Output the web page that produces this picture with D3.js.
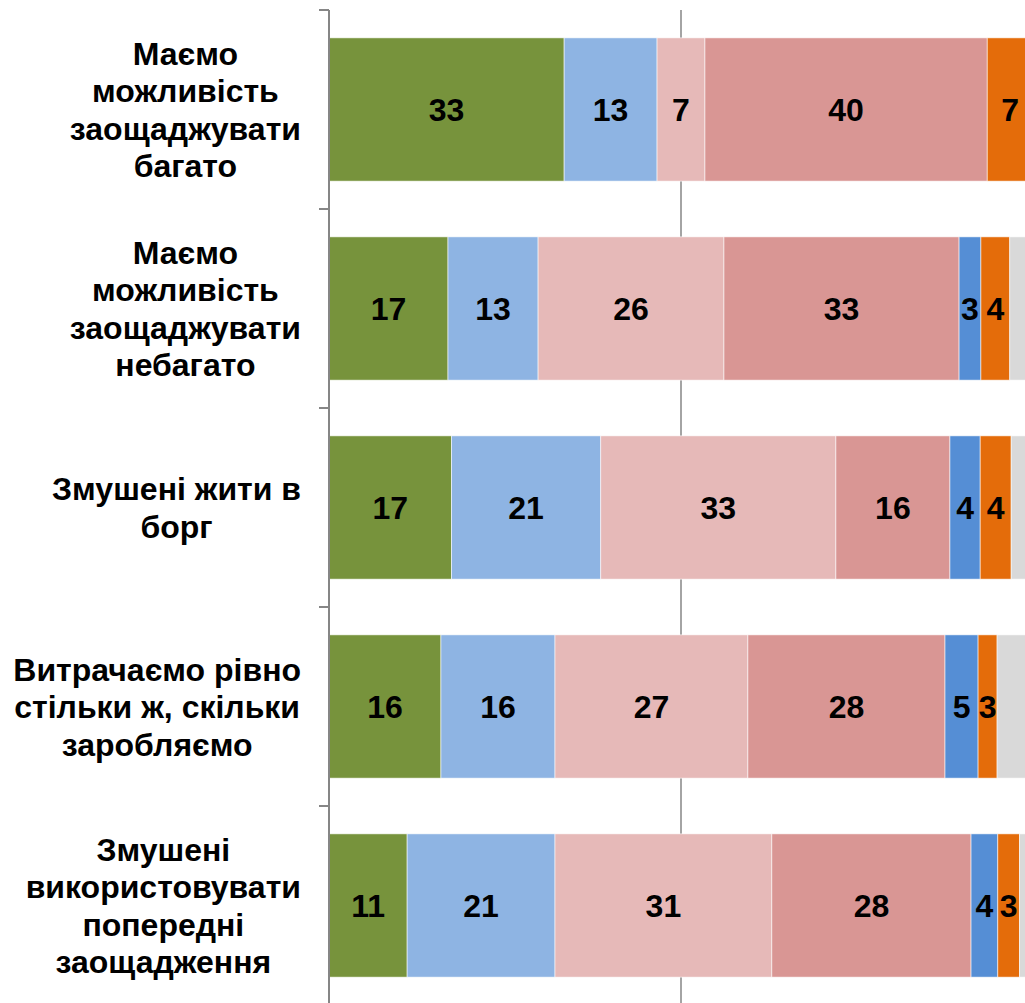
<!DOCTYPE html>
<html>
<head>
<meta charset="utf-8">
<script src="https://cdn.jsdelivr.net/npm/d3@7"></script>
<style>
  body { margin: 0; background: #fff; }
  svg { display: block; font-family: "Liberation Sans", Arial, sans-serif; }
</style>
</head>
<body>
<script>
var width = 1025, height = 1003;

//Categories, one label per bar (lines kept as in the picture)
var categories = [
  ["Маємо", "можливість", "заощаджувати", "багато"],
  ["Маємо", "можливість", "заощаджувати", "небагато"],
  ["Змушені жити в", "борг"],
  ["Витрачаємо рівно", "стільки ж, скільки", "заробляємо"],
  ["Змушені", "використовувати", "попередні", "заощадження"]
];

//Series values in %
var green     = [33.4, 16.9, 17.4, 15.9, 11.1];
var lightBlue = [13.2, 12.8, 21.2, 16.2, 21.0];
var lightPink = [6.8, 26.4, 33.4, 27.4, 30.8];
var darkPink  = [40.1, 33.4, 16.2, 28.0, 28.3];
var blue      = [0, 3.1, 4.3, 4.7, 3.8];
var orange    = [6.5, 4.1, 4.4, 2.7, 3.1];
var grey      = [0, 3.3, 3.1, 5.1, 1.9];

var series = [green, lightBlue, lightPink, darkPink, blue, orange, grey];
var colors = ["#77933C", "#8EB4E3", "#E6B9B8", "#D99694", "#558ED5", "#E46C0A", "#D9D9D9"];
var showLabel = [true, true, true, true, true, true, false]; //grey stays unlabelled

var margin = {left: 329, top: 10};

var x = d3.scaleLinear().domain([0, 100]).range([margin.left, margin.left + 704]);
var y = d3.scaleBand().domain(d3.range(categories.length))
  .range([margin.top, margin.top + 199 * categories.length])
  .paddingInner(0.28).paddingOuter(0.14);
var yTicks = d3.scaleBand().domain(d3.range(categories.length))
  .range([margin.top, margin.top + 199 * categories.length]);

var svg = d3.select("body").append("svg").attr("width", width).attr("height", height);

//50% gridline behind the bars
svg.append("line")
  .attr("x1", x(50)).attr("x2", x(50))
  .attr("y1", margin.top).attr("y2", height)
  .attr("stroke", "#868686").attr("stroke-width", 1.5);

//Stack the series per bar
var rows = categories.map(function(c, i) {
  var o = {i: i};
  series.forEach(function(s, k) { o["s" + k] = s[i]; });
  return o;
});
var keys = series.map(function(s, k) { return "s" + k; });
var stacked = d3.stack().keys(keys)(rows);

var layer = svg.selectAll("g.layer").data(stacked).enter().append("g")
  .attr("class", "layer")
  .attr("fill", function(d, k) { return colors[k]; });

layer.selectAll("rect").data(function(d) { return d; }).enter().append("rect")
  .attr("x", function(d) { return x(d[0]); })
  .attr("width", function(d) { return x(d[1]) - x(d[0]); })
  .attr("y", function(d) { return y(d.data.i); })
  .attr("height", y.bandwidth())
  .attr("stroke", "#fff").attr("stroke-width", 0.8).attr("stroke-opacity", 0.7);

//Value labels
stacked.forEach(function(s, k) {
  if (!showLabel[k]) return;
  svg.append("g").selectAll("text").data(s.filter(function(d) { return d[1] - d[0] > 0; }))
    .enter().append("text")
    .attr("x", function(d) { return (x(d[0]) + x(d[1])) / 2; })
    .attr("y", function(d) { return y(d.data.i) + y.bandwidth() / 2; })
    .attr("dy", "0.36em")
    .attr("text-anchor", "middle")
    .attr("font-size", 32).attr("font-weight", "bold").attr("fill", "#000")
    .text(function(d) { return Math.round(d[1] - d[0]); });
});

//Left axis line with ticks between categories
svg.append("line")
  .attr("x1", margin.left).attr("x2", margin.left)
  .attr("y1", margin.top).attr("y2", height)
  .attr("stroke", "#868686").attr("stroke-width", 2);
svg.append("g").selectAll("line").data(d3.range(categories.length + 1)).enter().append("line")
  .attr("x1", margin.left - 10).attr("x2", margin.left)
  .attr("y1", function(i) { return margin.top + i * yTicks.step(); })
  .attr("y2", function(i) { return margin.top + i * yTicks.step(); })
  .attr("stroke", "#868686").attr("stroke-width", 2);

//Category labels: block right-aligned, lines centered inside it
var lineH = 37.5;
categories.forEach(function(lines, i) {
  var g = svg.append("g");
  var cy = yTicks(i) + yTicks.bandwidth() / 2;
  var t = g.selectAll("text").data(lines).enter().append("text")
    .attr("text-anchor", "middle")
    .attr("font-size", 32).attr("font-weight", "bold").attr("fill", "#000")
    .attr("y", function(d, j) { return cy + (j - (lines.length - 1) / 2) * lineH; })
    .attr("dy", "0.36em")
    .text(function(d) { return d; });
  var maxW = d3.max(t.nodes(), function(n) { return n.getComputedTextLength(); });
  t.attr("x", 301 - maxW / 2);
});
</script>
</body>
</html>
